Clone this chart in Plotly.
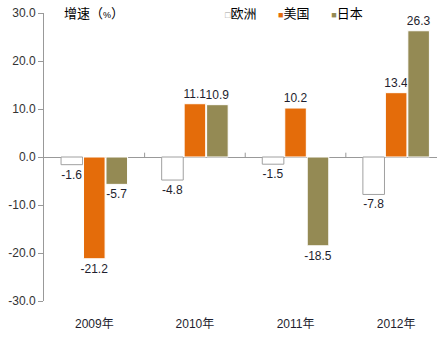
import plotly.graph_objects as go

categories = ["2009年", "2010年", "2011年", "2012年"]
europe = [-1.6, -4.8, -1.5, -7.8]
usa = [-21.2, 11.1, 10.2, 13.4]
japan = [-5.7, 10.9, -18.5, 26.3]
series_names = ["欧洲", "美国", "日本"]
y_ticks = [30, 20, 10, 0, -10, -20, -30]
y_tick_text = [f"{v:.1f}" for v in y_ticks]

font_family = "Liberation Sans, Arial, Noto Sans CJK SC, sans-serif"
text_color = "#1e1e2e"

fig = go.Figure()
specs = [
    (europe, "#ffffff", "#a0a0a0"),
    (usa, "#e46c0a", "#ffffff"),
    (japan, "#948a54", "#ffffff"),
]
for name, (vals, fill, line) in zip(series_names, specs):
    fig.add_trace(go.Bar(
        x=categories, y=vals, name=name,
        marker=dict(color=fill, line=dict(color=line, width=1)),
        text=[f"{v:.1f}" for v in vals], textposition="outside",
        textfont=dict(size=12, color=text_color, family=font_family),
        constraintext="none",
        cliponaxis=False,
    ))

# small category divider ticks on the zero line
for i in range(len(categories) - 1):
    fig.add_shape(type="line", xref="x", yref="y", x0=i + 0.5, x1=i + 0.5,
                  y0=0, y1=0.9, line=dict(color="#999999", width=1))

fig.add_annotation(
    xref="paper", yref="paper", x=0.045, y=1.0, xanchor="left", yanchor="middle",
    text="增速（<span style='font-size:9px'>%</span>）", showarrow=False,
    font=dict(size=13, color="#000000", family=font_family),
)
legend_text = (
    "<span style='color:#9a9a9a;font-size:9px'>□</span>欧洲"
    "&nbsp;&nbsp;&nbsp;&nbsp;&nbsp;&nbsp;<span style='color:#e46c0a;font-size:9px'>■</span>美国"
    "&nbsp;&nbsp;&nbsp;&nbsp;&nbsp;&nbsp;<span style='color:#948a54;font-size:9px'>■</span>日本"
)
fig.add_annotation(
    xref="paper", yref="paper", x=0.455, y=1.0, xanchor="left", yanchor="middle",
    text=legend_text, showarrow=False,
    font=dict(size=13, color="#000000", family=font_family),
)

fig.update_layout(
    width=437, height=338,
    margin=dict(l=44, r=0, t=13, b=37),
    paper_bgcolor="white", plot_bgcolor="white",
    barmode="group", bargap=0.33, bargroupgap=0.04,
    showlegend=False,
    font=dict(family=font_family, size=12, color=text_color),
    xaxis=dict(range=[-0.5, 3.406], showline=False, showgrid=False, ticks="",
               ticklabelstandoff=14, tickfont=dict(size=12, color=text_color)),
    yaxis=dict(range=[-30, 30], tickvals=y_ticks, ticktext=y_tick_text,
               showgrid=False, showline=True, linecolor="#999999", linewidth=1,
               ticks="outside", ticklen=5, tickcolor="#999999",
               zeroline=True, zerolinecolor="#999999", zerolinewidth=1,
               tickfont=dict(size=12, color="#333333")),
)

fig.write_html("out.html")
